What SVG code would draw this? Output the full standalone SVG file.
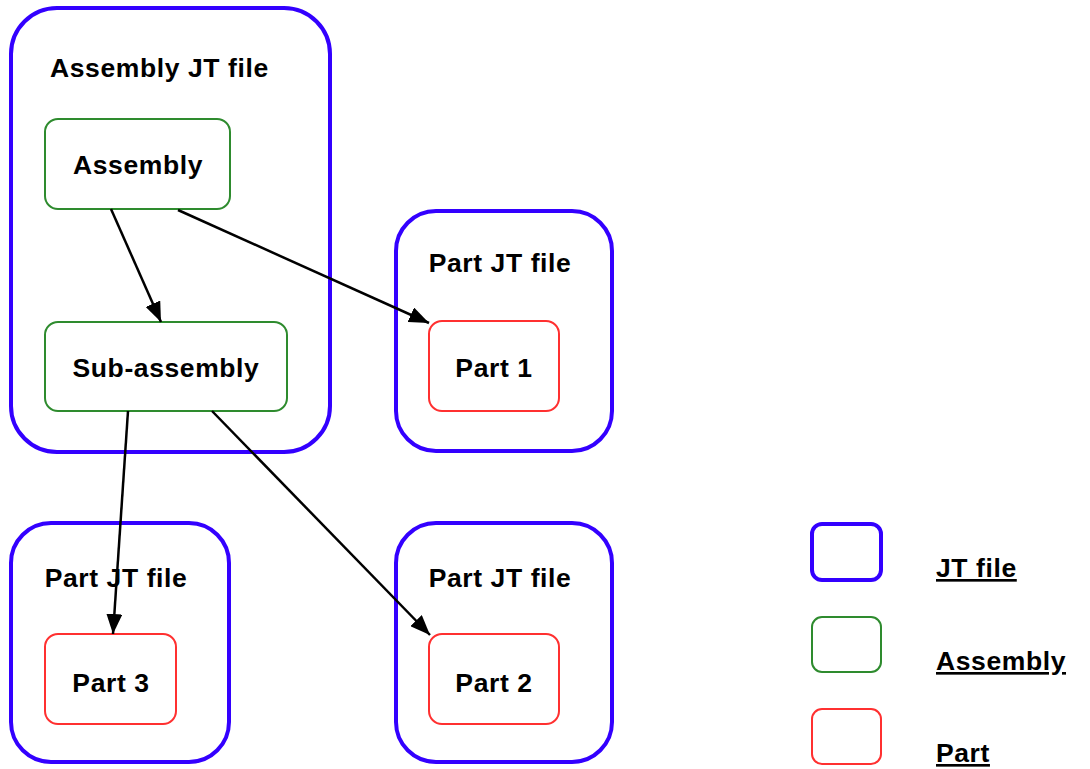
<svg xmlns="http://www.w3.org/2000/svg" width="1090" height="769" viewBox="0 0 1090 769">
<style>
.jt{fill:#fff;stroke:#3300ff;stroke-width:4}
.asm{fill:#fff;stroke:#2e8b2e;stroke-width:2}
.part{fill:#fff;stroke:#ff3030;stroke-width:2}
.t{font-family:"Liberation Sans",Arial,sans-serif;font-weight:bold;font-size:26.5px;letter-spacing:0.6px;fill:#000}
.c{text-anchor:middle}
.u{text-decoration:underline}
.conn{stroke:#000;stroke-width:2.5;fill:none;marker-end:url(#ah)}
</style>
<defs>
<marker id="ah" markerUnits="userSpaceOnUse" markerWidth="22" markerHeight="16" refX="20" refY="8" orient="auto">
<path d="M0,0 L20,8 L0,16 Z" fill="#000"/>
</marker>
</defs>
<rect width="1090" height="769" fill="#fff"/>
<g id="assembly-jt-file">
<rect class="jt" x="11" y="8" width="319" height="444" rx="46"/>
<text class="t" x="50" y="77">Assembly JT file</text>
</g>
<g id="assembly">
<rect class="asm" x="45" y="119" width="185" height="90" rx="13"/>
<text class="t c" x="138" y="174">Assembly</text>
</g>
<g id="sub-assembly">
<rect class="asm" x="45" y="322" width="242" height="89" rx="13"/>
<text class="t c" x="166" y="377">Sub-assembly</text>
</g>
<g id="part-jt-file-1">
<rect class="jt" x="396" y="211" width="216" height="240" rx="40"/>
<text class="t c" x="500" y="272">Part JT file</text>
</g>
<g id="part1">
<rect class="part" x="429" y="321" width="130" height="90" rx="13"/>
<text class="t c" x="494" y="377">Part 1</text>
</g>
<g id="part-jt-file-3">
<rect class="jt" x="11" y="523" width="218" height="239" rx="40"/>
<text class="t c" x="116" y="587">Part JT file</text>
</g>
<g id="part3">
<rect class="part" x="45" y="634" width="131" height="90" rx="13"/>
<text class="t c" x="111" y="692">Part 3</text>
</g>
<g id="part-jt-file-2">
<rect class="jt" x="396" y="523" width="216" height="239" rx="40"/>
<text class="t c" x="500" y="587">Part JT file</text>
</g>
<g id="part2">
<rect class="part" x="429" y="634" width="130" height="90" rx="13"/>
<text class="t c" x="494" y="692">Part 2</text>
</g>
<g id="connectors">
<line class="conn" x1="111" y1="209" x2="161" y2="322"/>
<line class="conn" x1="178" y1="210" x2="429" y2="323"/>
<line class="conn" x1="128" y1="411" x2="113" y2="634"/>
<line class="conn" x1="212" y1="411" x2="430" y2="635"/>
</g>
<g id="legend">
<rect class="jt" x="812" y="524" width="69" height="56" rx="10"/>
<rect class="asm" x="812" y="617" width="69" height="55" rx="10"/>
<rect class="part" x="812" y="709" width="69" height="55" rx="10"/>
<text class="t u" x="936" y="577">JT file</text>
<text class="t u" x="936" y="670">Assembly</text>
<text class="t u" x="936" y="762">Part</text>
</g>
</svg>
